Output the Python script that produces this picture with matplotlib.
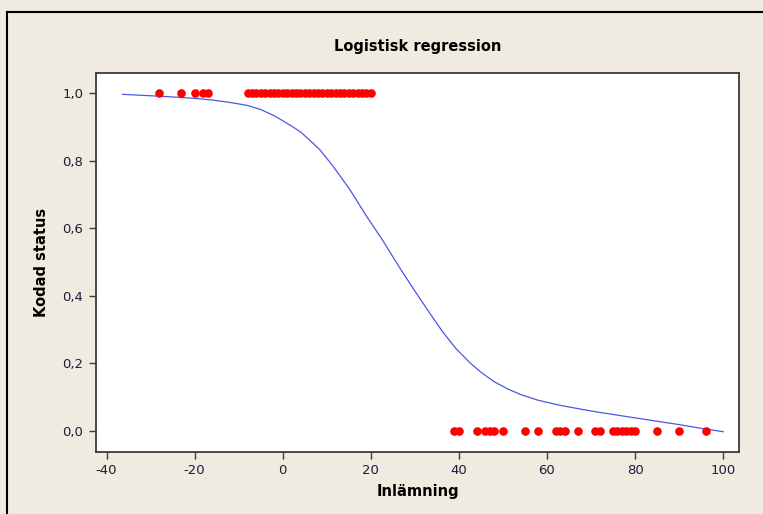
import numpy as np
import matplotlib.pyplot as plt
from matplotlib.lines import Line2D

plt.rcParams['axes.unicode_minus'] = False

# Observationer: inlämning (dagar) och kodad status
inl_status1 = [-28, -23, -20, -18, -17,
               -8, -7, -6, -5, -4, -3, -2, -1, 0, 1, 2, 3, 4, 5, 6, 7,
               8, 9, 10, 11, 12, 13, 14, 15, 16, 17, 18, 19, 20]
inl_status0 = [39, 40, 44, 46, 47, 48, 50, 55, 58, 62, 63, 64, 67, 71, 72,
               75, 76, 77, 78, 79, 80, 85, 90, 96]

# Anpassad logistisk kurva
kurva_x = [-36.4, -32, -26, -20, -16, -12, -8, -5, -2, 0, 2, 4, 6, 8.5, 11.5,
           15.3, 19.1, 22.8, 26.2, 29.6, 33.4, 36.4, 39.4, 42.5, 45, 48, 51,
           54, 58, 63, 68, 72, 76, 81, 86, 90, 95, 100]
kurva_y = [0.996, 0.993, 0.989, 0.984, 0.979, 0.972, 0.963, 0.951, 0.933,
           0.918, 0.902, 0.885, 0.862, 0.831, 0.782, 0.713, 0.634, 0.562,
           0.490, 0.422, 0.348, 0.292, 0.243, 0.202, 0.174, 0.146, 0.125,
           0.108, 0.091, 0.076, 0.064, 0.055, 0.047, 0.037, 0.027, 0.019,
           0.008, -0.002]

x_ticks = [-40, -20, 0, 20, 40, 60, 80, 100]
y_ticks = [0.0, 0.2, 0.4, 0.6, 0.8, 1.0]
y_ticklabels = ['0,0', '0,2', '0,4', '0,6', '0,8', '1,0']

bg = '#efebe0'
textcol = '#1c1c3a'

fig = plt.figure(figsize=(7.63, 5.14), dpi=100, facecolor=bg)
ax = fig.add_axes([96 / 763, 62 / 514, 643 / 763, 379 / 514])
ax.set_facecolor('white')

ax.plot(kurva_x, kurva_y, color='#4a58e0', linewidth=0.9, zorder=2)
ax.plot(inl_status1, [1.0] * len(inl_status1), 'o', color='#ff0000',
        markersize=6.2, markeredgewidth=0, zorder=3)
ax.plot(inl_status0, [0.0] * len(inl_status0), 'o', color='#ff0000',
        markersize=6.2, markeredgewidth=0, zorder=3)

ax.set_xlim(-42.4, 103.6)
ax.set_ylim(-0.062, 1.059)
ax.set_xticks(x_ticks)
ax.set_yticks(y_ticks)
ax.set_yticklabels(y_ticklabels)

for s in ax.spines.values():
    s.set_color('#3a3a3a')
    s.set_linewidth(1.3)
ax.tick_params(direction='out', length=5, width=1, color='#3a3a3a',
               labelsize=9.5, labelcolor=textcol, pad=4)

ax.set_title('Logistisk regression', fontsize=10.5, fontweight='bold',
             color='black', pad=16)
ax.set_xlabel('Inlämning', fontsize=10.5, fontweight='bold', color='black',
              labelpad=5)
ax.set_ylabel('Kodad status', fontsize=10.5, fontweight='bold', color='black',
              labelpad=10)

# Fönsterkant överst och till vänster
fig.add_artist(Line2D([7 / 763, 7 / 763], [0, 1 - 12 / 514],
                      transform=fig.transFigure, color='black', linewidth=1.5))
fig.add_artist(Line2D([7 / 763, 1], [1 - 12 / 514, 1 - 12 / 514],
                      transform=fig.transFigure, color='black', linewidth=1.5))

fig.savefig('out.png', dpi=100, facecolor=bg)
